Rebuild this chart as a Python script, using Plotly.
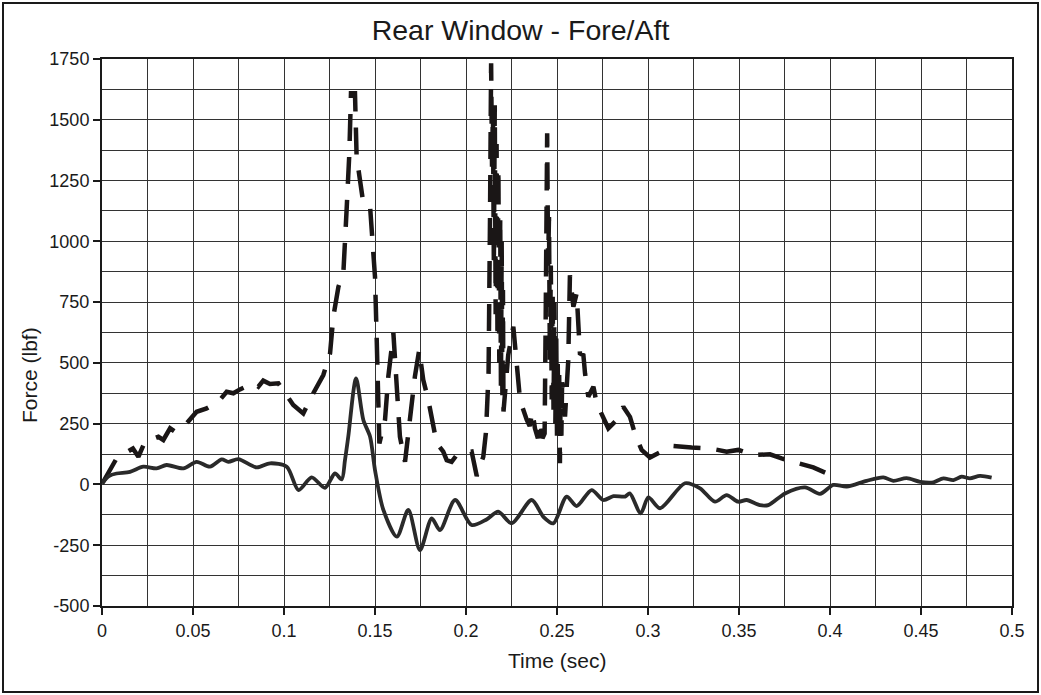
import plotly.graph_objects as go

# ---- data ----
solid_t = [0.000, 0.004, 0.008, 0.0154, 0.0227, 0.030, 0.0355, 0.0447, 0.052, 0.0593,
           0.0658, 0.0694, 0.0749, 0.085, 0.0923, 0.1015, 0.108, 0.1152, 0.1225, 0.128,
           0.1317, 0.1335, 0.1353, 0.1396, 0.1436, 0.1473, 0.150, 0.1546, 0.162, 0.1683,
           0.1747, 0.1812, 0.1857, 0.194, 0.2031, 0.2113, 0.2177, 0.2251, 0.2361, 0.2425,
           0.248, 0.2553, 0.2608, 0.269, 0.2755, 0.281, 0.2874, 0.290, 0.296, 0.3002,
           0.3066, 0.3203, 0.3286, 0.3368, 0.3432, 0.3496, 0.3542, 0.3615, 0.3661, 0.3753,
           0.3863, 0.3945, 0.4018, 0.4092, 0.4201, 0.4293, 0.4348, 0.4421, 0.4495, 0.4568,
           0.4623, 0.4678, 0.4723, 0.4769, 0.4824, 0.4888]
solid_f = [5, 35, 45, 52, 73, 66, 80, 66, 93, 73,
           103, 93, 104, 70, 87, 73, -23, 29, -14, 45,
           21, 100, 196, 436, 265, 196, 59, -105, -215, -105,
           -270, -140, -188, -64, -167, -144, -112, -160, -64, -133,
           -160, -50, -89, -23, -64, -48, -50, -37, -119, -53,
           -98, 5, -16, -71, -44, -71, -64, -85, -85, -37,
           -12, -39, -2, -9, 15, 29, 15, 26, 11, 9,
           25, 18, 32, 25, 35, 28]

dash_t = [0.000, 0.0007, 0.008, 0.017, 0.020, 0.0236, 0.031, 0.0337, 0.0374, 0.0401,
          0.0465, 0.052, 0.0575, 0.0639, 0.0685, 0.0722, 0.0758, 0.0832, 0.0859, 0.0886,
          0.0923, 0.0969, 0.1051, 0.1106, 0.1161, 0.1216, 0.1253, 0.1271, 0.1299, 0.1326,
          0.1344, 0.1359, 0.1368, 0.139, 0.1399, 0.1436, 0.1473, 0.150, 0.151, 0.1518,
          0.1524, 0.1555, 0.1573, 0.1601, 0.1619, 0.1637, 0.1665, 0.1692, 0.1719, 0.1743,
          0.1765, 0.1793, 0.1839, 0.1875, 0.1894, 0.1921, 0.1949, 0.1976, 0.2031, 0.2059,
          0.2095, 0.2110, 0.2116, 0.2124, 0.2132, 0.2138, 0.2143, 0.2148, 0.2153, 0.2158,
          0.2163, 0.2168, 0.2173, 0.2178, 0.2183, 0.2188, 0.2192, 0.2196, 0.2200, 0.2203,
          0.2206, 0.2212, 0.2232, 0.2260, 0.2287, 0.2297, 0.2334, 0.2350, 0.2365, 0.2379,
          0.2395, 0.2410, 0.2420, 0.2432, 0.2438, 0.2446, 0.2451, 0.2456, 0.2461, 0.2466,
          0.2471, 0.2476, 0.2481, 0.2486, 0.2491, 0.2496, 0.2500, 0.2504, 0.2508, 0.2512,
          0.2516, 0.2520, 0.2524, 0.2528, 0.2532, 0.2544, 0.2562, 0.2571, 0.2590, 0.2608,
          0.2617, 0.2626, 0.2645, 0.2654, 0.2672, 0.2700, 0.2718, 0.2782, 0.2828, 0.2864,
          0.2901, 0.2929, 0.2965, 0.3011, 0.3093, 0.3139, 0.3240, 0.3341, 0.3432, 0.3496,
          0.3579, 0.3670, 0.3734, 0.3826, 0.3908, 0.3982]
dash_f = [5, 11, 107, 148, 114, 176, 196, 183, 231, 217,
          251, 299, 313, 340, 381, 375, 391, 416, 402, 427,
          413, 416, 327, 292, 375, 450, 539, 690, 813, 868,
          1129, 1362, 1609, 1609, 1348, 1156, 1142, 854, 580, 265,
          169, 265, 443, 622, 375, 196, 93, 265, 443, 553,
          430, 347, 169, 135, 100, 93, 121, 128, 135, 35,
          114, 217, 292, 460, 1100, 1732, 1300, 1550, 900, 1560,
          700, 1400, 600, 1300, 500, 1100, 400, 1000, 350, 800,
          300, 361, 532, 649, 429, 347, 265, 240, 300, 230,
          190, 260, 190, 210, 700, 1444, 900, 1100, 500, 900,
          350, 800, 300, 750, 250, 600, 200, 500, 180, 450,
          87, 400, 200, 420, 402, 279, 512, 860, 731, 786,
          635, 539, 532, 457, 361, 402, 333, 231, 265, 320,
          278, 207, 142, 111, 142, 158, 152, 148, 135, 142,
          121, 124, 107, 89, 70, 46]

x_ticks = [0, 0.05, 0.1, 0.15, 0.2, 0.25, 0.3, 0.35, 0.4, 0.45, 0.5]
x_tick_labels = ["0", "0.05", "0.1", "0.15", "0.2", "0.25", "0.3", "0.35", "0.4", "0.45", "0.5"]
y_ticks = [-500, -250, 0, 250, 500, 750, 1000, 1250, 1500, 1750]
y_tick_labels = ["-500", "-250", "0", "250", "500", "750", "1000", "1250", "1500", "1750"]

FONT = "Liberation Sans, Arial, Helvetica, sans-serif"
GRID = "#333333"

fig = go.Figure()
fig.add_trace(go.Scatter(x=dash_t, y=dash_f, mode="lines",
                         line=dict(color="#1a1616", width=4.5, dash="27px,16px"),
                         showlegend=False))
fig.add_trace(go.Scatter(x=solid_t, y=solid_f, mode="lines",
                         line=dict(color="#2a2a2a", width=3.8, shape="spline", smoothing=0.8),
                         showlegend=False))

axis_common = dict(showline=True, linecolor="#1a1a1a", linewidth=2, mirror=True,
                   ticks="outside", ticklen=7, tickwidth=2, tickcolor="#1a1a1a",
                   showgrid=True, gridcolor=GRID, gridwidth=1.4, zeroline=False,
                   tickfont=dict(family=FONT, size=18, color="#1a1a1a"))

fig.update_xaxes(range=[0, 0.5], tickvals=x_ticks, ticktext=x_tick_labels,
                 minor=dict(dtick=0.025, tick0=0, showgrid=True, gridcolor=GRID,
                            gridwidth=1.4, ticks=""),
                 **axis_common)
fig.update_yaxes(range=[-500, 1750], tickvals=y_ticks, ticktext=y_tick_labels,
                 minor=dict(dtick=125, tick0=0, showgrid=True, gridcolor=GRID,
                            gridwidth=1.4, ticks=""),
                 **axis_common)

fig.update_layout(
    width=1041, height=695,
    margin=dict(l=102, r=29, t=59, b=89),
    paper_bgcolor="white", plot_bgcolor="white",
    title=dict(text="Rear Window - Fore/Aft", x=0.5, xref="container", xanchor="center",
               y=1 - 30 / 695, yref="container", yanchor="middle",
               font=dict(family=FONT, size=28.5, color="#1a1a1a")),
    annotations=[
        dict(text="Time (sec)", xref="paper", yref="paper", x=0.5, y=(606 - 660) / 547,
             xanchor="center", yanchor="middle", showarrow=False,
             font=dict(family=FONT, size=21, color="#1a1a1a")),
        dict(text="Force (lbf)", xref="paper", yref="paper", x=(29 - 102) / 910,
             y=(606 - 375) / 547, xanchor="center", yanchor="middle", textangle=-90,
             showarrow=False, font=dict(family=FONT, size=21, color="#1a1a1a")),
    ],
    shapes=[dict(type="rect", xref="paper", yref="paper",
                 x0=(3 - 102) / 910, x1=(1038 - 102) / 910,
                 y0=(606 - 692) / 547, y1=(606 - 3) / 547,
                 line=dict(color="#1a1a1a", width=2), fillcolor="rgba(0,0,0,0)")],
)

fig.write_html("out.html", config={"displayModeBar": False},
               post_script="document.body.style.margin='0px';document.body.style.padding='0px';")
